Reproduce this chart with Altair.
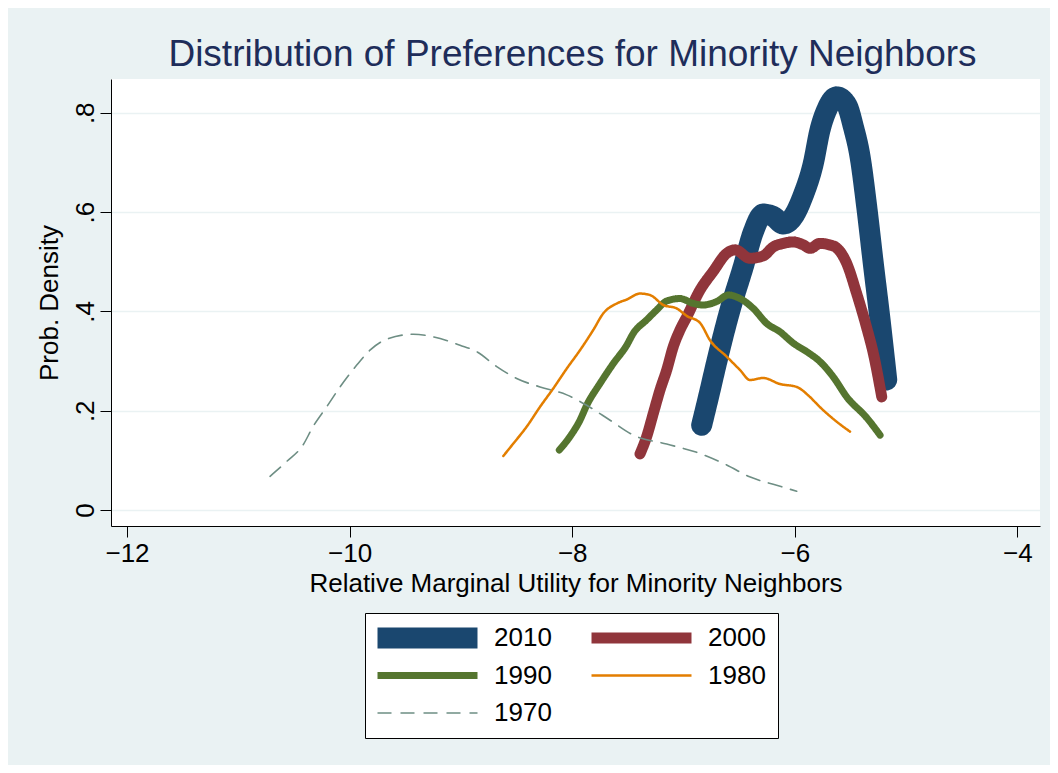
import altair as alt
import pandas as pd

years = ["2010", "2000", "1990", "1980", "1970"]

x2010 = [-6.837, -6.771, -6.702, -6.582, -6.463, -6.373, -6.283, -6.193, -6.103, -6.014,
         -5.924, -5.834, -5.774, -5.713, -5.624, -5.534, -5.474, -5.414, -5.354, -5.295,
         -5.234, -5.174]
y2010 = [0.171, 0.232, 0.298, 0.403, 0.490, 0.560, 0.596, 0.591, 0.576, 0.591,
         0.634, 0.698, 0.765, 0.806, 0.832, 0.816, 0.772, 0.712, 0.611, 0.497,
         0.383, 0.262]

x2000 = [-7.391, -7.331, -7.271, -7.211, -7.151, -7.092, -7.031, -6.971, -6.852, -6.732,
         -6.612, -6.537, -6.403, -6.283, -6.193, -6.103, -6.014, -5.924, -5.863, -5.774,
         -5.687, -5.624, -5.534, -5.444, -5.354, -5.295, -5.219]
y2000 = [0.113, 0.148, 0.195, 0.242, 0.282, 0.329, 0.363, 0.389, 0.443, 0.481,
         0.517, 0.524, 0.507, 0.512, 0.530, 0.537, 0.540, 0.534, 0.527, 0.537,
         0.534, 0.528, 0.497, 0.436, 0.367, 0.316, 0.228]

x1990 = [-8.116, -8.020, -7.930, -7.870, -7.750, -7.631, -7.510, -7.451, -7.331, -7.241,
         -7.151, -7.031, -6.912, -6.822, -6.702, -6.597, -6.492, -6.373, -6.253, -6.133,
         -6.013, -5.893, -5.774, -5.654, -5.534, -5.354, -5.234]
y1990 = [0.121, 0.148, 0.181, 0.211, 0.255, 0.295, 0.332, 0.356, 0.383, 0.403,
         0.421, 0.426, 0.416, 0.413, 0.420, 0.433, 0.426, 0.406, 0.376, 0.359,
         0.336, 0.319, 0.299, 0.268, 0.228, 0.186, 0.151]

x1980 = [-8.619, -8.529, -8.409, -8.289, -8.170, -8.049, -7.930, -7.810, -7.721, -7.600,
         -7.510, -7.391, -7.301, -7.181, -7.061, -6.971, -6.852, -6.762, -6.612, -6.492,
         -6.403, -6.283, -6.136, -5.983, -5.865, -5.777, -5.624, -5.504]
y1980 = [0.109, 0.134, 0.168, 0.208, 0.245, 0.285, 0.322, 0.363, 0.396, 0.416,
         0.424, 0.436, 0.433, 0.413, 0.406, 0.391, 0.377, 0.342, 0.309, 0.282,
         0.262, 0.266, 0.254, 0.248, 0.228, 0.208, 0.178, 0.158]

x1970 = [-10.715, -10.565, -10.419, -10.329, -10.206, -10.086, -9.936, -9.817, -9.667, -9.428,
         -9.251, -9.008, -8.858, -8.678, -8.499, -8.289, -8.049, -7.870, -7.660, -7.451,
         -7.151, -6.852, -6.612, -6.406, -6.163, -5.983]
y1970 = [0.068, 0.098, 0.131, 0.168, 0.208, 0.248, 0.292, 0.322, 0.344, 0.354,
         0.349, 0.332, 0.319, 0.289, 0.265, 0.248, 0.232, 0.211, 0.181, 0.151,
         0.133, 0.114, 0.091, 0.067, 0.050, 0.038]

x_ticks = [-12, -10, -8, -6, -4]
y_ticks = [0, 0.2, 0.4, 0.6, 0.8]

series = {"2010": (x2010, y2010), "2000": (x2000, y2000), "1990": (x1990, y1990),
          "1980": (x1980, y1980), "1970": (x1970, y1970)}
rows = []
for yr in years:
    xs, ys = series[yr]
    for i, (a, b) in enumerate(zip(xs, ys)):
        rows.append({"year": yr, "x": a, "y": b, "i": i})
df = pd.DataFrame(rows)

colors = ["#1A476F", "#90353B", "#55752F", "#E37E00", "#6E8E84"]
widths = [21, 11, 7, 2.5, 1.6]
dashes = [[1, 0], [1, 0], [1, 0], [1, 0], [14, 9]]

FONT = "Liberation Sans"
LBL = 26

leg = alt.Legend(title=None)

base = alt.Chart(df).mark_line(interpolate="monotone", strokeCap="round", strokeJoin="round").encode(
    x=alt.X("x:Q", scale=alt.Scale(domain=[-12.144, -3.797], nice=False, zero=False),
            axis=alt.Axis(values=x_ticks, grid=False, title="Relative Marginal Utility for Minority Neighbors",
                          labelExpr="datum.value < 0 ? '\u2212' + format(-datum.value, 'd') : format(datum.value, 'd')",
                          labelBaseline="alphabetic", labelPadding=24, labelFlush=False,
                          titleBaseline="alphabetic", titleY=65)),
    y=alt.Y("y:Q", scale=alt.Scale(domain=[-0.032, 0.868], nice=False, zero=False),
            axis=alt.Axis(values=y_ticks, grid=True, gridColor="#EAF2F3", gridWidth=1.6,
                          title="Prob. Density",
                          labelExpr="datum.value == 0 ? '0' : replace(format(datum.value, '.1f'), '0.', '.')",
                          labelAngle=270, labelAlign="center", labelBaseline="alphabetic", labelPadding=7,
                          titleAngle=270, titleAlign="center", titleBaseline="alphabetic", titleX=-53.5)),
    color=alt.Color("year:N", scale=alt.Scale(domain=years, range=colors), legend=leg),
    strokeWidth=alt.StrokeWidth("year:N", scale=alt.Scale(type="ordinal", domain=years, range=widths), legend=leg),
    strokeDash=alt.StrokeDash("year:N", scale=alt.Scale(type="ordinal", domain=years, range=dashes), legend=leg),
    order=alt.Order("i:Q"),
)

layers = [base.transform_filter(alt.datum.year == yr) for yr in years]

chart = alt.layer(*layers).properties(
    width=929, height=447,
    autosize=alt.AutoSizeParams(type="none"),
    padding={"left": 103, "top": 71, "right": 10, "bottom": 239},
    background="#EAF2F3",
    title=alt.Title("Distribution of Preferences for Minority Neighbors", fontSize=37, font=FONT,
                    color="#1E2D5A", fontWeight="normal", anchor="middle", baseline="alphabetic",
                    offset=14, dx=-3, dy=38),
).configure_view(fill="white", strokeWidth=0).configure_axis(
    labelFont=FONT, titleFont=FONT, labelFontSize=LBL, titleFontSize=LBL, labelColor="black",
    titleColor="black", titleFontWeight="normal", domainColor="black", tickColor="black",
    domainWidth=1, tickWidth=1, tickSize=11,
).configure_legend(
    orient="none", legendX=254, legendY=534, columns=2, direction="horizontal",
    symbolType="M-25,0H25", symbolSize=16, symbolOffset=37.5, labelFontSize=LBL, labelFont=FONT,
    labelColor="black", labelOffset=53.5, columnPadding=39, rowPadding=11.5, clipHeight=26,
    padding=12, fillColor="white", strokeColor="black",
)

chart.save("out.html", embed_options={"renderer": "svg", "actions": False})
